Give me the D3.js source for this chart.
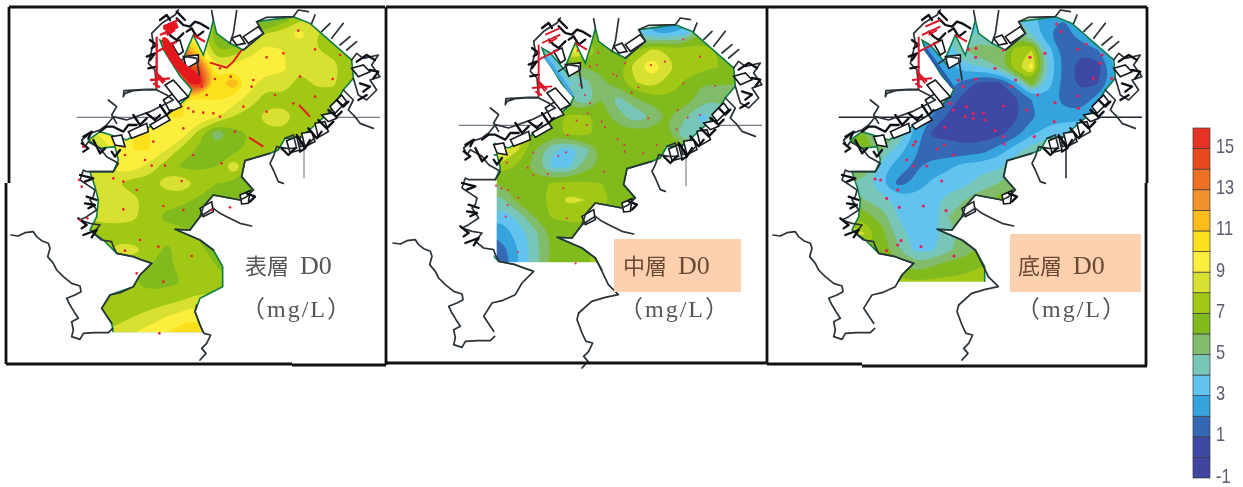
<!DOCTYPE html>
<html>
<head>
<meta charset="utf-8">
<script src="https://cdn.jsdelivr.net/npm/d3@7"></script>
<style>
  html, body { margin: 0; padding: 0; background: #fff; overflow: hidden; }
</style>
</head>
<body>
<div id="chart"></div>
<script>
// DO grids. one row per 50 map units, columns too
const gridCols = [250,300,350,400,450,500,550,600,650,700,750,800,850,900,950,1000,1050,1100];
const gridRows = [50,100,150,200,250,300,350,400,450,500,550,600,650,700,750,800,850,900,950,1000];

const surfaceDO = [
  7,7,7,7,7,7,8,8,7,7,6,4,6,7.5,8,8,8,8,
  7,7,7,7,7,8,10,9,6,6.5,7,8,8.5,9.5,8,7.5,7,7,
  7,7,7,7,7,9,13,10,7,7,8.6,9.4,9,8.5,8,7.5,7,7,
  7,7,7,7,8,10,14,14,9,9.5,9.5,9.6,9.2,8.3,8.6,8.5,7,7,
  7,7,7,7,8,11,15,16,10.5,12,9.5,8.3,8.7,7.5,8.2,8.2,7,7,
  8,8,8,8,9,10,10,9.5,10,9.5,8.5,7.5,7.6,7.4,7.4,7.4,7,7,
  8,8,9,9,9.5,10,10,9.7,9.2,8,7.5,8.4,8.6,7.6,7.3,7,7,7,
  9,9,9.5,10,10,9.5,9.5,7.4,5,6.6,7,7.7,7.7,7.4,7,7,7,7,
  8,8,9.5,10,10,9,7.5,6.8,6.6,6.6,7.4,7.4,7,7,7,7,7,7,
  8,8,9.5,9.6,8.5,7.4,6.8,6.8,7,9,7,6.6,6.6,6.6,6.6,6.6,6.6,6.6,
  8.5,8.5,8,7.4,7.6,8.6,8.8,7.6,7,6.8,6.6,6.6,6.6,6.6,6.6,6.6,6.6,6.6,
  8,8.5,8.6,8.4,7.4,7.3,7.2,6.8,6.6,6.6,6.6,6.6,6.6,6.6,6.6,6.6,6.6,6.6,
  8,8.6,8.6,8.3,7.3,6.8,6.6,6.6,6.6,6.6,6.6,6.6,6.6,6.6,6.6,6.6,6.6,6.6,
  7,7,7.2,7.2,7.3,7.3,7.3,6.8,6.6,6.6,6.6,6.6,6.6,6.6,6.6,6.6,6.6,6.6,
  7,7,8.5,8.5,7.5,6.8,7.4,7.2,6.6,6.6,6.6,6.6,6.6,6.6,6.6,6.6,6.6,6.6,
  7,7,7.3,7,7,6.8,7.4,7.4,7,6.7,6.6,6.6,6.6,6.6,6.6,6.6,6.6,6.6,
  7,7,7,7,6.8,6.8,7,7.3,7.4,7,7,7,7,7,7,7,7,7,
  7,7,7,7,7.3,7.6,8,8.4,8.4,8,8,8,8,8,8,8,8,8,
  7.5,7.5,7.5,8,8.5,9,9.6,9.8,9,9,9,9,9,9,9,9,9,9,
  8,8,8.5,9,9.5,10,10.7,10.8,10,10,10,10,10,10,10,10,10,10
];

const middleDO = [
  6,6,6,6,6,6,6,6.5,6.5,6,4,2.5,0.8,1.5,5,6.5,6.5,6.5,
  6,6,6,6,6,5,6.6,6.6,6.5,6,4,3,3,3.5,6,6.5,6.5,6.5,
  6,6,6,6,6,4,10,9,6.5,6.5,6.9,8.2,7.8,7.4,7.6,6.9,6.5,6.5,
  6,6,6,6,4,3,6,6,6.2,6.7,8.5,10,8.4,7.3,7.4,7,6.5,6.5,
  6,6,6,6,4,3,3.8,4.5,5.8,6.5,7.9,8.4,7.6,6.9,6,6.2,6,6,
  6,6,6,6,6,6,5.5,4,6,4.5,5.8,6.4,6.8,6.5,5.5,5,5,5,
  6.8,6.8,6.8,6.8,6.8,6.5,7.2,7.4,6.5,5.5,4.2,5,6,5.2,3.5,4.5,5,5,
  12,12,12,9,6.8,6.5,7.4,7.4,6.6,6.5,6.5,6.5,6,4,4.5,5,5,5,
  10,10,10,8,6,4.2,3.2,4.5,6.2,6.5,6.5,6.8,6.5,6.5,6.5,6.5,6.5,6.5,
  8,8,7.5,6.8,5.5,3.8,3.7,5.5,6.3,6.5,6.5,6.5,6.5,6.5,6.5,6.5,6.5,6.5,
  6,6,6,6.5,6.6,7.1,7.3,7.2,7,6.6,6.5,6.5,6.5,6.5,6.5,6.5,6.5,6.5,
  4.5,4.5,4.8,6.4,6.6,7.3,8.3,8,7.3,6.7,6.5,6.5,6.5,6.5,6.5,6.5,6.5,6.5,
  4,4,3.2,4.4,6,7.1,7.3,7.3,6.9,6.5,6.5,6.5,6.5,6.5,6.5,6.5,6.5,6.5,
  2,2,2.5,3.3,4.7,6.2,6.4,6.5,6.5,6.5,6.5,6.5,6.5,6.5,6.5,6.5,6.5,6.5,
  0.5,0.5,1.5,3,4.6,6.2,6.5,6.9,7.3,6.9,6.5,6.5,6.5,6.5,6.5,6.5,6.5,6.5,
  0.5,0.5,1,3,4.6,6.2,6.5,6.9,7.3,6.9,6.5,6.5,6.5,6.5,6.5,6.5,6.5,6.5,
  6.5,6.5,6.5,6.5,6.5,6.5,6.5,6.5,6.5,6.5,6.5,6.5,6.5,6.5,6.5,6.5,6.5,6.5,
  6.5,6.5,6.5,6.5,6.5,6.5,6.5,6.5,6.5,6.5,6.5,6.5,6.5,6.5,6.5,6.5,6.5,6.5,
  6.5,6.5,6.5,6.5,6.5,6.5,6.5,6.5,6.5,6.5,6.5,6.5,6.5,6.5,6.5,6.5,6.5,6.5,
  6.5,6.5,6.5,6.5,6.5,6.5,6.5,6.5,6.5,6.5,6.5,6.5,6.5,6.5,6.5,6.5,6.5,6.5
];

const bottomDO = [
  4,4,4,4,4,4,4,3.5,3,3.5,4,3.5,2,2,6,7,7,7,
  4,4,4,4,4,2,4,4,4,4,5,4,2,1.5,3,6,7,7,
  4,4,4,4,3,2,3.5,5,6,5,7.5,8,3.5,1.5,1.2,2,4,4,
  4,4,4,4,3,2,2.5,3.8,4,5,7.8,9.5,4,1.5,0.5,0.5,3,3,
  4,4,4,4,3,3,2.5,1.5,0.6,0.6,2.5,6.5,3.5,1.5,0.7,1,3,3,
  4,4,4,3,3,3,1.5,0.6,0.5,0.5,0.7,2,2.5,1.6,1.5,2.5,3,3,
  4,4,4,4,3,2,0.8,0.5,0.4,0.5,0.8,1.8,2.5,2.5,2.4,3.5,4,4,
  6,6,5,5,2.8,0.9,0.8,0.5,0.5,0.6,1.5,2.8,3.5,4,4.5,4.5,4.5,4.5,
  7,7,5,3.5,2.2,1.3,1.3,1.3,1.5,2.5,3.5,4.6,5,5.5,5.5,5.5,5.5,5.5,
  6,6,3.5,2.5,1.8,2.5,2.8,3.5,3.6,3.7,4.8,5.5,6.5,6.5,6.5,6.5,6.5,6.5,
  5,4.5,3,1.7,2.2,3.2,3.5,3.7,4.6,5,5.5,6.5,6.5,6.5,6.5,6.5,6.5,6.5,
  6,5,4.5,3.6,3.5,3.5,4.4,5,5.6,6.5,6.8,6.8,6.8,6.8,6.8,6.8,6.8,6.8,
  7,6.5,5.5,4,3.5,3.5,5,5.6,6.5,6.5,6.5,6.5,6.5,6.5,6.5,6.5,6.5,6.5,
  9,8,6.5,4.5,3.5,3.5,4.5,5.5,6,6.5,6.5,6.5,6.5,6.5,6.5,6.5,6.5,6.5,
  7,7,6.5,5.2,3.8,3.8,4.8,5.5,6.3,6.5,6.5,6.5,6.5,6.5,6.5,6.5,6.5,6.5,
  7,7,7,6.5,5.5,6,6.6,6.7,7,7,7,7,7,7,7,7,7,7,
  7.3,7.3,7.3,7.3,7.3,7.3,7.3,7.3,7.3,7.3,7.3,7.3,7.3,7.3,7.3,7.3,7.3,7.3,
  7.3,7.3,7.3,7.3,7.3,7.3,7.3,7.3,7.3,7.3,7.3,7.3,7.3,7.3,7.3,7.3,7.3,7.3,
  7.3,7.3,7.3,7.3,7.3,7.3,7.3,7.3,7.3,7.3,7.3,7.3,7.3,7.3,7.3,7.3,7.3,7.3,
  7.3,7.3,7.3,7.3,7.3,7.3,7.3,7.3,7.3,7.3,7.3,7.3,7.3,7.3,7.3,7.3,7.3,7.3
];

// legend, bottom band first
const legendBands = d3.range(-1, 16);
const legendTicks = [-1,1,3,5,7,9,11,13,15];
const legendColors = ["#3f45a0","#3c48a4","#3468b4","#34a4de","#62c4ee","#78c6b8","#80bc6a","#80ba1e","#a2c814","#d8e030","#fbee3c","#fde01c","#fbbc1e","#f2922a","#ee7020","#ea4a1e","#e63022"];

// everything below is in map units, 3 units to a page pixel
const bayOutline = [[880,50],[930,70],[1055,180],[1060,235],[1030,270],[990,335],[945,375],[900,415],[855,415],[835,450],[810,460],[735,482],[725,530],[760,570],[720,600],[640,585],[610,620],[600,650],[570,690],[525,688],[600,720],[640,750],[668,800],[668,860],[600,895],[585,935],[610,1000],[340,1000],[335,970],[305,925],[330,885],[400,860],[420,825],[455,790],[400,770],[350,760],[310,720],[270,690],[290,650],[295,600],[285,560],[270,515],[340,515],[355,480],[345,440],[300,445],[265,420],[300,395],[350,410],[380,420],[450,380],[520,330],[565,290],[575,268],[540,228],[490,148],[480,120],[505,135],[560,200],[550,175],[580,105],[610,165],[630,100],[640,60],[650,100],[690,130],[730,150],[790,100],[770,65]];

const coastLines = [
  [[33,705],[55,708],[75,698],[100,695],[110,710],[125,722],[145,730],[150,745],[143,770],[160,790],[170,810],[190,830],[215,850],[240,858],[243,875],[225,885],[200,895],[210,915],[222,935],[235,955],[215,965],[220,990],[215,1010],[240,1018],[250,1000],[285,998],[325,998],[338,985]],
  [[590,915],[585,935],[600,975],[612,1000],[632,1005],[620,1030],[605,1045],[618,1060],[600,1080]],
  [[335,970],[305,925],[330,885],[360,878],[400,860],[420,825],[455,790],[425,780],[400,770],[350,760],[340,740],[335,725],[305,720],[280,700],[300,675],[270,670],[240,660],[260,650],[290,630],[270,600],[280,590],[285,570],[270,560],[240,540],[250,510],[260,515],[340,515],[355,490],[320,470],[300,445],[265,425],[255,440],[245,420],[270,400],[300,390],[320,375],[340,350],[380,360],[450,335],[520,300],[500,285],[470,270],[430,270],[400,272],[375,280],[370,290],[372,272],[440,268],[470,268],[465,210],[445,190],[460,130],[455,100],[485,70],[525,45],[535,30]],
  [[325,300],[340,312],[350,320],[335,345],[350,370]],
  [[530,190],[560,170],[590,175],[600,240]],
  [[640,60],[635,32]],
  [[690,130],[700,100],[710,32]],
  [[730,150],[790,100],[770,65],[800,52],[880,50],[895,30],[925,35]],
  [[935,70],[945,45]],[[965,95],[990,70]],[[995,115],[1030,70]],[[1020,135],[1050,110]],[[1040,150],[1070,125]],
  [[1055,180],[1070,160],[1090,175],[1135,165],[1115,195],[1140,230],[1110,240],[1130,270],[1100,300],[1075,285],[1060,235]],
  [[1030,270],[1060,300],[1045,330],[1065,350],[1080,370],[1120,385]],
  [[900,410],[900,440],[925,435],[945,410]],
  [[855,415],[880,405],[890,445],[860,445],[830,440],[820,470],[810,490],[820,510],[835,545],[850,550]],
  [[810,460],[735,482],[725,530],[760,570],[740,590],[720,600],[640,585],[610,620],[600,650],[640,625],[660,640],[680,650],[720,670],[755,678]],
  [[570,690],[525,688],[600,720],[640,750]],
  [[600,650],[570,690]]
];

// dark tangle of small works along the shore
const shoreClutter = [
  [[530,55],[550,75],[570,80],[585,65],[600,70],[625,85]],[[560,95],[575,85],[590,110],[610,95]],[[500,95],[515,110],[530,120],[550,100]],
  [[480,60],[500,45],[510,60]],[[450,120],[470,135],[455,145]],[[440,170],[465,160],[450,180]],[[445,205],[470,200]],[[530,35],[555,60]],
  [[245,430],[265,445],[250,455]],[[280,420],[300,460],[315,445]],[[250,410],[275,395],[265,415]],
  [[300,395],[320,380],[340,380],[370,395],[385,375],[410,375]],[[400,345],[420,375],[440,355]],[[440,340],[465,360],[480,345]],[[480,315],[500,345],[515,330]],
  [[235,655],[260,675],[245,685]],[[255,610],[285,615],[265,625]],[[260,590],[290,600]],[[250,705],[290,690],[275,712]],[[240,525],[280,535],[255,545]],[[360,450],[345,470],[335,455]],
  [[1070,185],[1100,165],[1125,180]],[[1110,210],[1135,215],[1120,235]],[[1080,250],[1110,260],[1090,275]],[[1075,300],[1100,285]],
  [[1010,300],[1030,320],[1045,305]],[[985,330],[1010,350],[1025,335]],[[955,360],[980,385],[1000,365]],[[925,385],[950,415],[965,395]],[[890,405],[915,445],[930,420]],
  [[845,445],[865,465],[885,445]],[[740,580],[765,590],[750,605]],[[905,425],[915,445],[900,455]]
];
// coast carries on past the survey edge on the two lower maps
const openCoast = [[640,750],[660,790],[679,830],[709,860],[670,868],[629,880],[590,915]];

// little white piers along the shore, drawn closed
const piers = [
  [[385,395],[440,370],[445,395],[395,415]],
  [[450,375],[500,345],[510,360],[460,388]],
  [[490,300],[520,280],[545,320],[510,335]],
  [[495,255],[520,240],[565,290],[535,305]],
  [[550,170],[595,165],[595,185],[560,205]],
  [[515,130],[540,120],[550,155],[535,165]],
  [[335,410],[365,405],[375,440],[345,435]],
  [[860,422],[890,410],[900,450],[870,458]],
  [[905,400],[935,395],[945,425],[915,440]],
  [[945,370],[975,365],[985,395],[955,412]],
  [[965,345],[1000,338],[1010,355],[985,365]],
  [[990,320],[1025,285],[1040,305],[1005,340]],
  [[1055,205],[1090,195],[1110,215],[1075,230]],
  [[730,110],[775,80],[790,100],[745,130]],
  [[695,115],[720,105],[735,130],[710,135]],
  [[600,625],[635,605],[640,635],[610,650]],
  [[720,585],[750,572],[745,610],[725,612]]
];

const crossLine = [[230,352],[1140,352]];
const tickLine = [[912,440],[912,535]];

const redChannels = [
  [[490,80],[535,60]],[[480,105],[535,80]],[[470,110],[470,265]],[[450,240],[510,235]],[[470,155],[530,125]],
  [[470,225],[490,250]],[[465,215],[495,245]],[[500,105],[525,90]],[[580,105],[615,125]],[[460,250],[480,262]]
];
const redPatch = [[475,110],[505,105],[540,185],[590,215],[612,240],[585,262],[550,230],[510,190]];
const redBox = [[485,75],[540,60],[530,95],[490,95]];
const redSlashes = [
  [[630,188],[680,203],[700,185],[725,150]],
  [[897,315],[930,350]],
  [[747,412],[790,440]]
];

const surfaceStations = [[800,172],[850,160],[945,148],[1020,165],[998,237],[900,230],[760,240],[692,230],[645,237],[605,260],[620,285],[580,335],[565,325],[610,338],[640,340],[550,385],[460,425],[375,465],[455,497],[495,497],[435,480],[545,543],[665,490],[370,545],[340,535],[410,570],[370,628],[490,618],[550,630],[375,752],[420,720],[475,740],[575,768],[490,845],[478,1000],[800,335],[945,290],[880,310],[825,285],[730,320],[755,260],[660,350],[580,465],[705,395],[895,92],[660,205],[635,630],[690,622],[237,540],[245,560],[240,660],[262,655],[410,820],[495,100],[250,440]];
const middleStations = [[798,195],[840,185],[945,170],[990,258],[895,250],[895,118],[760,262],[740,278],[685,222],[695,228],[635,195],[640,158],[615,200],[720,190],[578,152],[585,255],[600,285],[615,310],[790,355],[878,330],[945,345],[908,353],[875,388],[815,435],[775,460],[698,418],[718,435],[720,455],[650,365],[660,382],[605,375],[575,362],[608,340],[548,405],[520,468],[543,457],[445,458],[428,503],[445,525],[488,522],[658,515],[535,565],[400,593],[368,570],[350,565],[333,557],[368,615],[362,650],[545,655],[398,757],[572,790],[365,488]];
const bottomStations = [[938,148],[1005,190],[1012,165],[985,235],[1040,235],[938,288],[870,308],[818,285],[840,160],[795,172],[888,95],[875,72],[964,132],[940,325],[868,365],[808,410],[785,330],[740,260],[752,240],[715,318],[690,392],[715,410],[718,432],[580,240],[632,238],[595,260],[555,310],[605,320],[565,330],[600,350],[625,340],[655,340],[625,355],[660,360],[540,382],[452,425],[445,435],[517,447],[538,435],[565,465],[425,480],[445,498],[485,498],[530,543],[398,570],[347,540],[330,537],[365,595],[403,622],[475,618],[543,632],[408,722],[398,735],[468,740],[365,752],[567,768],[633,145],[610,148],[632,172],[690,205],[715,150]];

const layerNames = ["表層", "中層", "底層"];
const doLabel = "D0";
const unitLabel = "（mg/L）";

// page placement of the three maps. coast sits slightly different in each
const panels = [
  { id:"p1", grid:surfaceDO, stations:surfaceStations, x:0, y:0, coastDx:0, coastDy:0, cut:[0,0,1100,997],
    name:layerNames[0], labelX:245, labelY:274, unitX:241, unitY:317, box:null, dot:"#ec2030", dotR:1.3, channelW:2.3 },
  { id:"p2", grid:middleDO, stations:middleStations, x:385, y:0, coastDx:-9, coastDy:24, cut:[335,0,1100,787],
    name:layerNames[1], labelX:623, labelY:274, unitX:619, unitY:317, box:[614,239,127,53], dot:"#ea3050", dotR:1.1, channelW:1.9 },
  { id:"p3", grid:bottomDO, stations:bottomStations, x:765, y:0, coastDx:-9, coastDy:0, cut:[0,0,1100,845],
    name:layerNames[2], labelX:1018, labelY:274, unitX:1016, unitY:317, box:[1010,234,131,58], dot:"#e8205a", dotR:1.6, channelW:2 }
];

// frame strokes round the maps, page pixels
const frameLines = [
  [[9,7],[385,7]],[[9,7],[9,183]],[[6,183],[6,364]],[[6,364],[292,364]],[[292,365],[386,365]],[[386,7],[386,365]],
  [[386,7],[767,7]],[[386,363],[767,363]],[[767,7],[767,364]],
  [[767,7],[1147,7]],[[767,364],[862,364]],[[862,366],[1147,366]],[[1147,7],[1147,183]],[[1146,183],[1146,366]]
];

const width = 1243, height = 487;

const svg = d3.select("#chart").append("svg")
  .attr("width", width)
  .attr("height", height)
  .style("display", "block");

const defs = svg.append("defs");
defs.append("filter").attr("id", "soft")
  .attr("x", "-5%").attr("y", "-5%").attr("width", "110%").attr("height", "110%")
  .append("feGaussianBlur").attr("stdDeviation", 0.6);
defs.append("filter").attr("id", "softer")
  .append("feGaussianBlur").attr("stdDeviation", 0.4);

const mapX = d3.scaleLinear().domain([0, 3]).range([0, 1]);
const mapY = d3.scaleLinear().domain([0, 3]).range([0, 1]);
const color = d3.scaleThreshold().domain(d3.range(0, 16)).range(legendColors);

const lineOpen = d3.line().x(d => mapX(d[0])).y(d => mapY(d[1]));
const lineSmooth = d3.line().x(d => mapX(d[0])).y(d => mapY(d[1])).curve(d3.curveBasisClosed);
const gridX = d3.scaleLinear().domain([0.5, gridCols.length - 0.5]).range([gridCols[0], gridCols[gridCols.length - 1]]);
const gridY = d3.scaleLinear().domain([0.5, gridRows.length - 0.5]).range([gridRows[0], gridRows[gridRows.length - 1]]);

panels.forEach(p => {
  const g = svg.append("g").attr("transform", `translate(${p.x},${p.y})`);
  const shift = `translate(${mapX(p.coastDx)},${mapY(p.coastDy)})`;

  defs.append("clipPath").attr("id", p.id + "-bay")
    .append("path")
    .attr("transform", shift)
    .attr("d", lineOpen(bayOutline) + "Z");
  defs.append("clipPath").attr("id", p.id + "-cut")
    .append("rect")
    .attr("x", mapX(p.cut[0])).attr("y", mapY(p.cut[1]))
    .attr("width", mapX(p.cut[2] - p.cut[0])).attr("height", mapY(p.cut[3] - p.cut[1]));

  const cross = g.append("g").attr("transform", shift).attr("filter", "url(#softer)");
  cross.selectAll("path").data([crossLine, tickLine]).join("path")
    .attr("d", lineOpen).attr("fill", "none")
    .attr("stroke", p.id === "p3" ? "#223" : "#778").attr("stroke-width", p.id === "p3" ? 1.5 : 1.1);

  // contour fill, clipped twice: coast then the survey cut
  const water = g.append("g").attr("clip-path", `url(#${p.id}-cut)`).attr("filter", "url(#soft)")
    .append("g").attr("clip-path", `url(#${p.id}-bay)`);

  // lowest band as a plain sheet, the contours go over it
  const minValue = d3.min(p.grid);
  water.append("rect")
    .attr("width", mapX(1200)).attr("height", mapY(1100))
    .attr("fill", color(minValue));

  const contours = d3.contours().size([gridCols.length, gridRows.length])
    .thresholds(legendBands.concat([16]).filter(t => t > minValue && t < 16)).smooth(true)(p.grid);

  water.selectAll(".band")
    .data(contours)
    .join("path").attr("class", "band")
    .attr("fill", d => color(d.value + 0.01))
    .attr("fill-rule", "evenodd")
    .attr("d", d => d.coordinates.map(poly => poly.map(ring =>
      lineSmooth(ring.slice(0, -1).map(pt => [gridX(pt[0]), gridY(pt[1])])) + "Z").join("")).join(""));

  g.append("g").attr("transform", shift).attr("filter", "url(#softer)")
    .attr("clip-path", `url(#${p.id}-cut)`)
    .append("path").attr("d", lineOpen(bayOutline) + "Z")
    .attr("fill", "none").attr("stroke", "#0e7c46").attr("stroke-width", 1.6);

  const top = g.append("g").attr("transform", shift).attr("filter", "url(#softer)");
  top.selectAll(".pier").data(piers).join("path").attr("class", "pier")
    .attr("d", d => lineOpen(d) + "Z").attr("fill", "#fff")
    .attr("stroke", "#14181c").attr("stroke-width", 1.6);
  top.selectAll(".coast").data(p.id === "p1" ? coastLines : coastLines.concat([openCoast])).join("path").attr("class", "coast")
    .attr("d", lineOpen).attr("fill", "none")
    .attr("stroke", "#2a3238").attr("stroke-width", 1.7).attr("stroke-linejoin", "round").attr("stroke-linecap", "round");
  top.selectAll(".clutter").data(shoreClutter).join("path").attr("class", "clutter")
    .attr("d", lineOpen).attr("fill", "none")
    .attr("stroke", "#0c1014").attr("stroke-width", 2.3).attr("stroke-linejoin", "round").attr("stroke-linecap", "round");
  top.selectAll(".chan").data(redChannels).join("path").attr("class", "chan")
    .attr("d", lineOpen).attr("fill", "none")
    .attr("stroke", "#dc1428").attr("stroke-width", p.channelW);

  if (p.id === "p1") {
    top.selectAll(".red").data([redPatch, redBox]).join("path").attr("class", "red")
      .attr("d", d => lineSmooth(d)).attr("fill", "#e5141e");
    top.selectAll(".slash").data(redSlashes).join("path").attr("class", "slash")
      .attr("d", lineOpen).attr("fill", "none")
      .attr("stroke", "#e4141e").attr("stroke-width", 1.9);
  } else {
    top.append("path").attr("d", lineOpen([[490,148],[540,215],[572,262]])).attr("fill", "none")
      .attr("stroke", p.id === "p2" ? "#44a8e0" : "#2c5cb0").attr("stroke-width", 3.5);
  }

  // stations are in the panel's own map units
  g.append("g").attr("filter", "url(#softer)")
    .selectAll("circle").data(p.stations).join("circle")
    .attr("cx", d => mapX(d[0])).attr("cy", d => mapY(d[1]))
    .attr("r", p.dotR).attr("fill", p.dot);

  // labels are page positioned
  const labels = svg.append("g").attr("filter", "url(#softer)");
  if (p.box) {
    labels.append("rect").attr("x", p.box[0]).attr("y", p.box[1]).attr("width", p.box[2]).attr("height", p.box[3])
      .attr("fill", "#fdd0b0");
  }
  const label = labels.append("text").attr("x", p.labelX).attr("y", p.labelY)
    .attr("font-family", "'Liberation Serif','Noto Sans CJK JP',serif")
    .attr("font-size", 22)
    .attr("fill", p.box ? "#6b4a36" : "#555");
  label.append("tspan").text(p.name);
  label.append("tspan").attr("dx", 11).attr("font-size", 26).text(doLabel);
  labels.append("text").attr("x", p.unitX).attr("y", p.unitY)
    .attr("font-family", "'Liberation Serif','Noto Sans CJK JP',serif")
    .attr("font-size", 24).attr("letter-spacing", 2)
    .attr("fill", "#555").text(unitLabel);
});

// frames
svg.append("g").selectAll("path").data(frameLines).join("path")
  .attr("d", d3.line())
  .attr("fill", "none").attr("stroke", "#111").attr("stroke-width", 2.8);

// legend
const legendY = d3.scaleLinear().domain([-1, 16]).range([478, 128]);
const legend = svg.append("g").attr("filter", "url(#softer)");
legend.selectAll("rect").data(legendBands).join("rect")
  .attr("x", 1193).attr("width", 17)
  .attr("y", d => legendY(d + 1))
  .attr("height", d => legendY(d) - legendY(d + 1))
  .attr("fill", (d, i) => legendColors[i])
  .attr("stroke", "#3a3a40").attr("stroke-width", 0.7);

const legendAxis = d3.axisRight(legendY).tickValues(legendTicks).tickFormat(d => String(d)).tickSize(0).tickPadding(0);
const axisG = svg.append("g").attr("transform", "translate(1216,0)").attr("filter", "url(#softer)").call(legendAxis);
axisG.select(".domain").remove();
axisG.selectAll("text")
  .attr("font-family", "'Liberation Sans',sans-serif")
  .attr("font-size", 20).attr("fill", "#5c5c70")
  .attr("dy", "0.2em")
  .attr("transform", "scale(0.82,1)");
</script>
</body>
</html>
